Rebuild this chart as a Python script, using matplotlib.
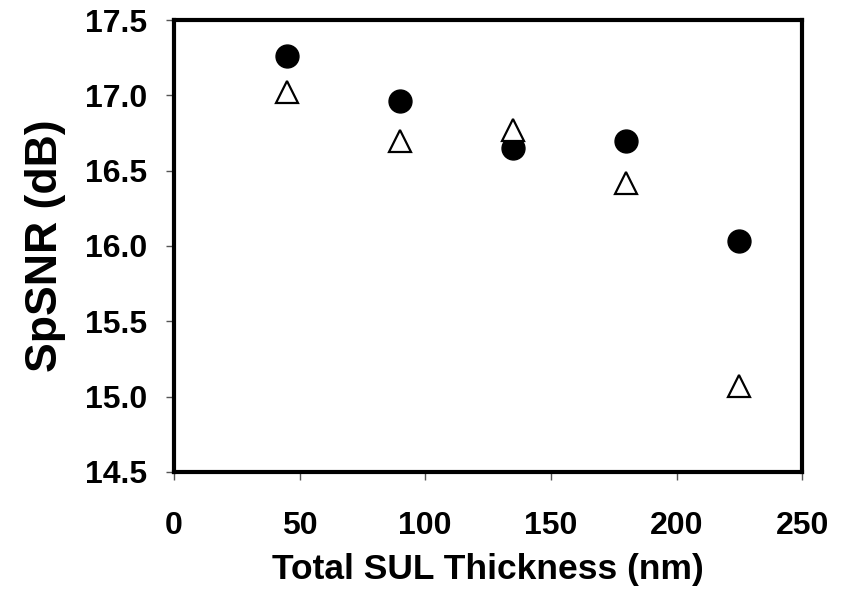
import matplotlib
matplotlib.use("Agg")
import matplotlib.pyplot as plt

# SUL thickness (nm) and SpSNR (dB) for the two sample sets
thickness = [45, 90, 135, 180, 225]
snr_filled = [17.26, 16.96, 16.65, 16.70, 16.03]
snr_open = [17.02, 16.70, 16.77, 16.42, 15.07]

xticks = [0, 50, 100, 150, 200, 250]
yticks = [14.5, 15.0, 15.5, 16.0, 16.5, 17.0, 17.5]

plt.rcParams['font.family'] = ['Liberation Sans', 'DejaVu Sans']
plt.rcParams['font.weight'] = 'bold'

fig = plt.figure(figsize=(8.48, 5.92), dpi=100)
ax = fig.add_axes([0.205, 0.203, 0.741, 0.763])

ax.plot(thickness, snr_filled, linestyle='none', marker='o', ms=16.5,
        color='black', zorder=3)
ax.plot(thickness, snr_open, linestyle='none', marker='^', ms=16.5,
        markerfacecolor='white', markeredgecolor='black', mew=1.6, zorder=3)

ax.set_xlim(0, 250)
ax.set_ylim(14.5, 17.5)
ax.set_xticks(xticks)
ax.set_yticks(yticks)
ax.set_yticklabels([f"{v:.1f}" for v in yticks])

for s in ax.spines.values():
    s.set_linewidth(3)
ax.tick_params(direction='out', length=6, width=1, color='#555555',
               labelsize=23)
ax.tick_params(axis='x', pad=22)
ax.tick_params(axis='y', pad=13)
for lab in ax.get_xticklabels() + ax.get_yticklabels():
    lab.set_fontweight('bold')

ax.set_xlabel('Total SUL Thickness (nm)', fontsize=25.5, fontweight='bold', labelpad=9)
ax.set_ylabel('SpSNR (dB)', fontsize=32, fontweight='bold', labelpad=14)

fig.savefig('out.png', dpi=100)
